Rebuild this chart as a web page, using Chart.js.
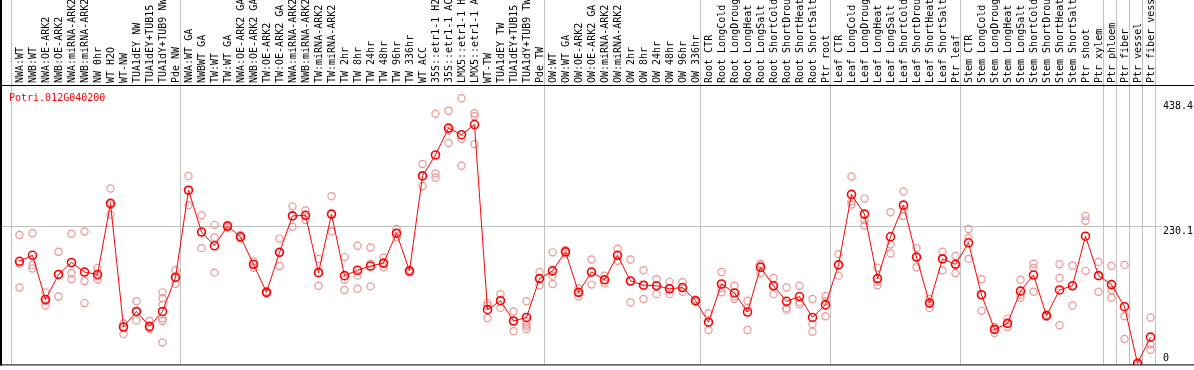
<!DOCTYPE html>
<html>
<head>
<meta charset="utf-8">
<script src="https://cdn.jsdelivr.net/npm/chart.js@4.4.0/dist/chart.umd.min.js"></script>
<style>
  html, body { margin: 0; padding: 0; background: #fff; }
  canvas { display: block; }
</style>
</head>
<body>
<canvas id="chart" width="1194" height="370"></canvas>
<script>
/* ================================
   DATA
================================ */
const geneName = "Potri.012G040200";

const categories = [
  "NWA:WT", "NWB:WT", "NWA:OE-ARK2", "NWB:OE-ARK2", "NWA:miRNA-ARK2", "NWB:miRNA-ARK2",
  "NW 0hr", "WT H2O", "WT-NW", "TUA1dEY NW", "TUA1dEY+TUB15 NW", "TUA1dY+TUB9 NW", "Pde NW",
  "NWA:WT GA", "NWBWT GA", "TW:WT", "TW:WT GA", "NWA:OE-ARK2 GA", "NWB:OE-ARK2 GA",
  "TW:OE-ARK2", "TW:OE-ARK2 GA", "NWA:miRNA-ARK2 GA", "NWB:miRNA-ARK2 GA", "TW:miRNA-ARK2",
  "TW:miRNA-ARK2 GA", "TW 2hr", "TW 8hr", "TW 24hr", "TW 48hr", "TW 96hr", "TW 336hr",
  "WT ACC", "35S::etr1-1 H2O", "35S::etr1-1 ACC", "LMX5::etr1-1 H2O", "LMX5::etr1-1 ACC",
  "WT-TW", "TUA1dEY TW", "TUA1dEY+TUB15 TW", "TUA1dY+TUB9 TW", "Pde TW",
  "OW:WT", "OW:WT GA", "OW:OE-ARK2", "OW:OE-ARK2 GA", "OW:miRNA-ARK2", "OW:miRNA-ARK2 GA",
  "OW 2hr", "OW 8hr", "OW 24hr", "OW 48hr", "OW 96hr", "OW 336hr",
  "Root CTR", "Root LongCold", "Root LongDrought", "Root LongHeat", "Root LongSalt",
  "Root ShortCold", "Root ShortDrought", "Root ShortHeat", "Root ShortSalt", "Ptr root",
  "Leaf CTR", "Leaf LongCold", "Leaf LongDrought", "Leaf LongHeat", "Leaf LongSalt",
  "Leaf ShortCold", "Leaf ShortDrought", "Leaf ShortHeat", "Leaf ShortSalt", "Ptr leaf",
  "Stem CTR", "Stem LongCold", "Stem LongDrought", "Stem LongHeat", "Stem LongSalt",
  "Stem ShortCold", "Stem ShortDrought", "Stem ShortHeat", "Stem ShortSalt",
  "Ptr shoot", "Ptr xylem", "Ptr phloem", "Ptr fiber", "Ptr vessel", "Ptr fiber vessel"
];

const means = [
  171, 181, 107, 149, 169, 153, 149, 268, 61, 87,
  62, 87, 144, 290, 220, 197, 230, 212, 166, 119,
  186, 247, 248, 152, 250, 147, 156, 163, 168, 218,
  155, 314, 349, 394, 383, 400, 90, 105, 71, 77,
  142, 155, 187, 119, 153, 140, 181, 138, 131, 130,
  125, 127, 105, 69, 133, 118, 86, 161, 130, 104,
  112, 77, 98, 165, 283, 250, 142, 212, 265, 178,
  101, 175, 166, 202, 115, 57, 67, 121, 148, 80,
  123, 130, 213, 147, 132, 95, 0, 44
];

const rep1 = [
  215, 218, 119, 187, 217, 221, 160, 293, 67, 104,
  71, 119, 156, 314, 248, 232, 232, 215, 171, 121,
  209, 263, 256, 175, 280, 178, 197, 194, 177, 225,
  157, 334, 418, 423, 444, 419, 101, 116, 87, 104,
  153, 186, 190, 126, 174, 147, 192, 174, 156, 141,
  137, 136, 107, 84, 153, 130, 105, 167, 143, 127,
  130, 108, 113, 183, 313, 276, 160, 253, 288, 193,
  108, 187, 180, 225, 141, 61, 75, 140, 167, 82,
  166, 164, 247, 170, 163, 165, 0, 77
];

const rep2 = [
  167, 165, 104, 149, 151, 138, 146, 265, 62, 86,
  60, 109, 144, 290, 220, 211, 229, 211, 166, 118,
  186, 247, 248, 152, 250, 140, 147, 167, 168, 218,
  154, 314, 318, 390, 376, 414, 97, 105, 71, 65,
  142, 147, 187, 119, 153, 140, 181, 138, 131, 130,
  125, 127, 105, 69, 126, 112, 93, 164, 130, 93,
  103, 66, 104, 165, 271, 240, 137, 199, 258, 178,
  101, 175, 166, 210, 115, 57, 67, 115, 160, 80,
  143, 130, 239, 147, 123, 79, 0, 32
];

const rep3 = [
  127, 159, 97, 112, 141, 101, 141, 249, 49, 72,
  58, 98, 133, 265, 193, 152, 227, 209, 160, 117,
  163, 229, 240, 130, 221, 123, 125, 129, 161, 211,
  152, 297, 311, 369, 331, 367, 76, 93, 54, 57,
  131, 133, 184, 112, 132, 134, 172, 102, 108, 116,
  116, 120, 103, 56, 119, 108, 56, 151, 116, 90,
  99, 53, 79, 147, 266, 231, 131, 184, 247, 161,
  93, 156, 151, 175, 88, 51, 61, 110, 120, 78,
  64, 97, 155, 120, 110, 41, 0, 23
];

// [category index, value] for the few samples with more than 3 replicates
const extraReps = [[11, 75], [11, 71], [11, 35], [39, 70], [39, 62]];

// first category of every sample group (last entry = end of axis)
const groupStarts = [0, 13, 41, 53, 63, 73, 84, 85, 86, 87, 88];

const yTicks = [0, 230.1, 438.4];

/* ================================
   CHART
================================ */
const mono = "'DejaVu Sans Mono', 'Liberation Mono', monospace";

const repPoints = [];
[rep1, rep2, rep3].forEach(arr => {
  arr.forEach((v, i) => repPoints.push({ x: categories[i], y: v }));
});
extraReps.forEach(([i, v]) => repPoints.push({ x: categories[i], y: v }));

const framePlugin = {
  id: 'frame',
  beforeDraw(chart) {
    const { ctx, chartArea } = chart;
    const xs = chart.scales.x;
    const ys = chart.scales.y;
    const step = xs.getPixelForValue(1) - xs.getPixelForValue(0);

    ctx.save();
    ctx.strokeStyle = '#c0c0c0';
    ctx.lineWidth = 1;
    ctx.beginPath();
    groupStarts.forEach(b => {
      const px = Math.round(xs.getPixelForValue(b) - step / 2) - 2 + 0.5;
      ctx.moveTo(px, 0);
      ctx.lineTo(px, chartArea.bottom);
    });
    const gy = Math.round(ys.getPixelForValue(yTicks[1])) + 0.5;
    ctx.moveTo(0, gy);
    ctx.lineTo(chartArea.right + 4, gy);
    ctx.stroke();
    ctx.restore();
  },
  afterDraw(chart) {
    const { ctx, chartArea, width } = chart;
    ctx.save();
    ctx.fillStyle = '#000';
    ctx.fillRect(0, chartArea.top, width, 1);
    ctx.fillRect(0, chartArea.bottom, width, 1);
    ctx.fillRect(0, 0, 2, chartArea.bottom + 1);

    ctx.fillStyle = '#ff0000';
    ctx.font = "10px " + mono;
    ctx.textBaseline = 'alphabetic';
    ctx.fillText(geneName, 9, chartArea.top + 16);
    ctx.restore();
  }
};

new Chart(document.getElementById('chart'), {
  type: 'line',
  data: {
    labels: categories,
    datasets: [
      {
        label: 'mean',
        data: means,
        order: 0,
        borderColor: '#ff0000',
        borderWidth: 1,
        tension: 0,
        pointRadius: 4,
        pointBorderWidth: 1.6,
        pointBorderColor: '#ff0000',
        pointBackgroundColor: 'rgba(0,0,0,0)'
      },
      {
        label: 'replicates',
        data: repPoints,
        order: 1,
        showLine: false,
        pointRadius: 3.6,
        pointBorderWidth: 1.2,
        pointBorderColor: '#eb9696',
        pointBackgroundColor: 'rgba(0,0,0,0)'
      }
    ]
  },
  options: {
    responsive: false,
    animation: false,
    devicePixelRatio: 1,
    layout: { padding: { left: 13, right: 0, top: 0, bottom: 1 } },
    plugins: {
      legend: { display: false },
      tooltip: { enabled: false }
    },
    scales: {
      x: {
        type: 'category',
        position: 'top',
        offset: true,
        grid: { display: false, drawTicks: false },
        border: { display: false },
        ticks: {
          autoSkip: false,
          minRotation: 90,
          maxRotation: 90,
          padding: 2,
          labelOffset: 13,
          color: '#000',
          font: { family: mono, size: 10 }
        },
        afterFit: s => {
          s.height = 85;
          s.paddingLeft = 0;
          s.paddingRight = 0;
        }
      },
      y: {
        position: 'right',
        min: -1.65,
        max: 466.2,
        grid: { display: false, drawTicks: false },
        border: { display: false },
        afterBuildTicks: s => { s.ticks = yTicks.map(v => ({ value: v })); },
        ticks: {
          padding: 6,
          color: '#000',
          font: { family: mono, size: 10, lineHeight: 1 },
          callback: v => v === 0 ? ['0', ''] : ['', String(v)]
        },
        afterFit: s => {
          s.width = 37;
          s.paddingTop = 0;
          s.paddingBottom = 0;
        }
      }
    }
  },
  plugins: [framePlugin]
});
</script>
</body>
</html>
